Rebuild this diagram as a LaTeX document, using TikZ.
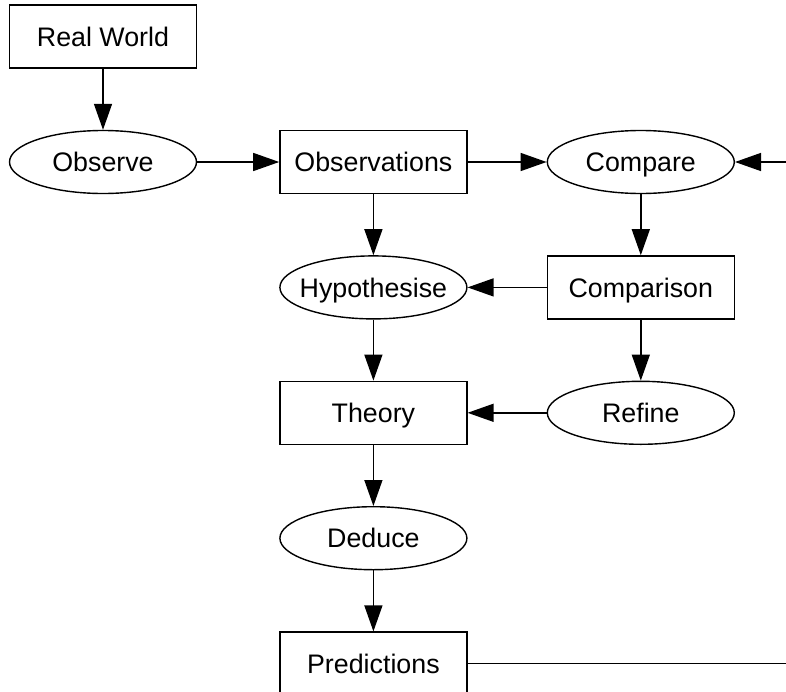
\documentclass[tikz,border=0pt]{standalone}
\usepackage{fontspec}
\setmainfont{Liberation Sans}
\usetikzlibrary{arrows.meta,positioning,shapes.geometric}

\newcommand{\ovaltext}[1]{\makebox[50pt]{#1}}

\begin{document}
\begin{tikzpicture}[
    node distance=30.5pt and 41pt,
    every node/.style={font=\fontsize{13.4}{15}\selectfont, text height=9.6pt, text depth=0pt},
    box/.style={draw, line width=0.7pt, minimum width=93.5pt, minimum height=31.5pt, inner sep=0pt},
    oval/.style={box, ellipse},
    arr/.style={-{Triangle[length=13pt,width=9pt]}, line width=0.7pt},
    rim/.style={line width=0.7pt}
]
% picture is cut at the right and bottom edges
\useasboundingbox (-51.5pt,81pt) rectangle (341.5pt,-264.5pt);

\node[oval] (observe) at (0,0) {\ovaltext{Observe}};
\node[box, above=of observe] (realworld) {Real World};
\node[box, right=of observe] (observations) {Observations};
\node[oval, right=39.5pt of observations] (compare) {\ovaltext{Compare}};
\node[oval, below=of observations] (hypothesise) {\ovaltext{Hypothesise}};
\node[box, below=of compare] (comparison) {Comparison};
\node[box, below=of hypothesise] (theory) {Theory};
\node[oval, below=of comparison] (refine) {\ovaltext{Refine}};
\node[oval, below=of theory] (deduce) {\ovaltext{Deduce}};
\node[box, below=of deduce] (predictions) {Predictions};

\coordinate (rimtop) at (341.5pt,0);
\coordinate (rimbot) at (rimtop |- predictions);

\draw[arr] (realworld) -- (observe);
\draw[arr] (observe) -- (observations);
\draw[arr] (observations) -- (compare);
\draw[arr] (rimtop) -- (compare);
\draw[arr] (observations) -- (hypothesise);
\draw[arr] (compare) -- (comparison);
\draw[arr] (comparison) -- (hypothesise);
\draw[arr] (hypothesise) -- (theory);
\draw[arr] (comparison) -- (refine);
\draw[arr] (refine) -- (theory);
\draw[arr] (theory) -- (deduce);
\draw[arr] (deduce) -- (predictions);
\draw[rim] (predictions) -- (rimbot);
\end{tikzpicture}
\end{document}
